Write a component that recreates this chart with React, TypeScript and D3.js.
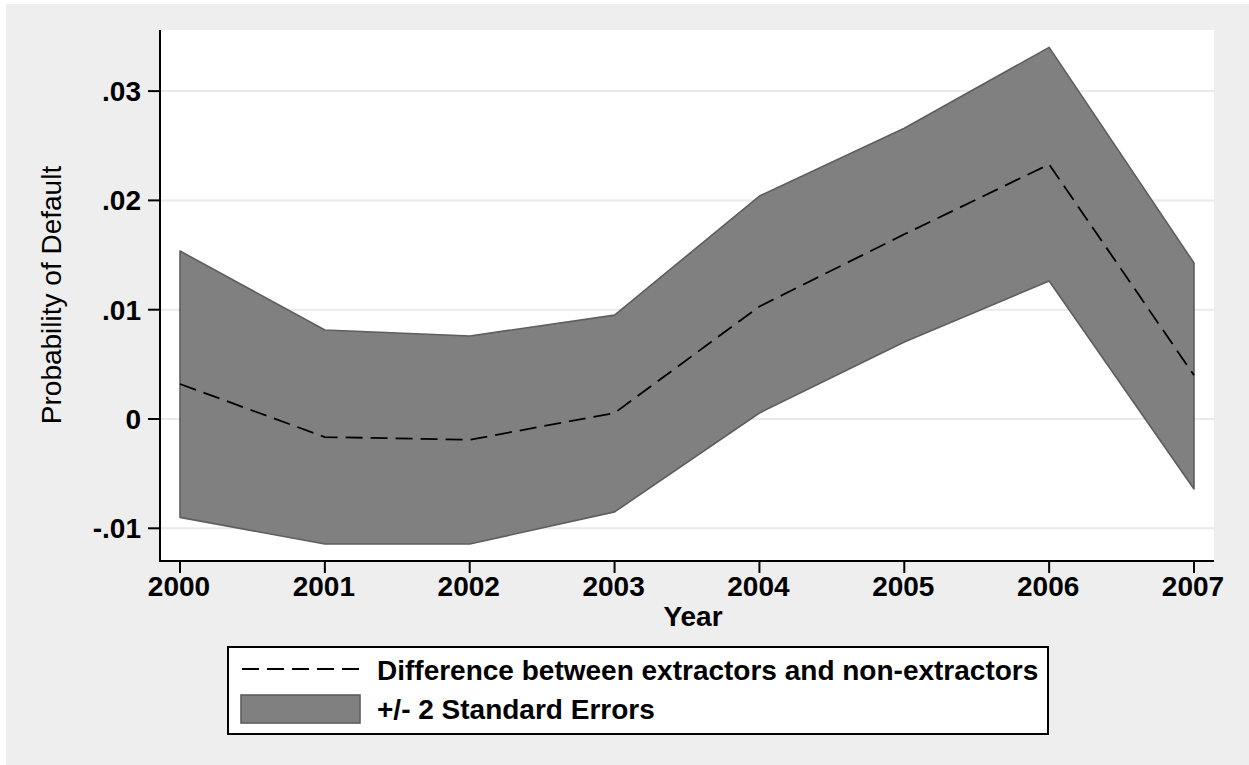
import React from "react";
import * as d3 from "d3";

const years = [2000, 2001, 2002, 2003, 2004, 2005, 2006, 2007];
const diff = [0.0032, -0.00165, -0.0019, 0.00055, 0.0103, 0.0169, 0.0233, 0.004];
const upper = [0.01537, 0.00814, 0.0076, 0.0095, 0.0204, 0.0266, 0.034, 0.01427];
const lower = [-0.009, -0.01144, -0.01144, -0.0085, 0.00055, 0.00704, 0.01263, -0.0064];
const yTicks = [-0.01, 0, 0.01, 0.02, 0.03];
const yTickLabels = ["-.01", "0", ".01", ".02", ".03"];
const legendLabels = ["Difference between extractors and non-extractors", "+/- 2 Standard Errors"];

const W = 1249;
const H = 765;
const plot = { left: 161, right: 1214, top: 30, bottom: 561 };
const FONT = "'Liberation Sans', Arial, sans-serif";
const FS = 28;

export default function App() {
  const x = d3.scaleLinear().domain([2000, 2007]).range([180, 1194]);
  const y = d3.scaleLinear().domain([0, 0.01]).range([419, 309.7]);

  const rows = years.map((yr, i) => ({ yr, d: diff[i], u: upper[i], l: lower[i] }));
  const area = d3
    .area<any>()
    .x((r) => x(r.yr))
    .y0((r) => y(r.l))
    .y1((r) => y(r.u));
  const line = d3
    .line<any>()
    .x((r) => x(r.yr))
    .y((r) => y(r.d));

  return (
    <svg
      width={W}
      height={H}
      style={{ position: "absolute", left: 0, top: 0, display: "block" }}
    >
      <rect x={0} y={0} width={W} height={H} fill="#ffffff" />
      <rect x={6} y={4} width={W - 6} height={H - 4} fill="#eeeeee" />
      <rect
        x={plot.left}
        y={plot.top}
        width={plot.right - plot.left}
        height={plot.bottom - plot.top}
        fill="#ffffff"
      />
      {yTicks.map((t, i) => (
        <line
          key={"g" + i}
          x1={plot.left}
          x2={plot.right}
          y1={y(t)}
          y2={y(t)}
          stroke="#eaeaea"
          strokeWidth={2}
        />
      ))}
      <path d={area(rows) || ""} fill="#808080" stroke="#5e5e5e" strokeWidth={1.6} strokeLinejoin="round" />
      <path
        d={line(rows) || ""}
        fill="none"
        stroke="#000"
        strokeWidth={1.8}
        strokeDasharray="17 8"
      />
      {/* axes */}
      <line x1={160} x2={160} y1={plot.top} y2={plot.bottom + 1} stroke="#000" strokeWidth={2} />
      <line x1={159} x2={plot.right} y1={561} y2={561} stroke="#000" strokeWidth={2} />
      {yTicks.map((t, i) => (
        <g key={"yt" + i}>
          <line x1={148} x2={160} y1={y(t)} y2={y(t)} stroke="#000" strokeWidth={2} />
          <text
            x={141}
            y={y(t) + 10}
            textAnchor="end"
            fontFamily={FONT}
            fontWeight={700}
            fontSize={FS}
            fill="#000"
          >
            {yTickLabels[i]}
          </text>
        </g>
      ))}
      {years.map((yr, i) => (
        <g key={"xt" + i}>
          <line x1={x(yr)} x2={x(yr)} y1={561} y2={573} stroke="#000" strokeWidth={2} />
          <text
            x={x(yr) - 1}
            y={596}
            textAnchor="middle"
            fontFamily={FONT}
            fontWeight={700}
            fontSize={FS}
            fill="#000"
          >
            {String(yr)}
          </text>
        </g>
      ))}
      <text x={693} y={626} textAnchor="middle" fontFamily={FONT} fontWeight={700} fontSize={FS} fill="#000">
        Year
      </text>
      <text
        transform={`translate(61,295) rotate(-90)`}
        textAnchor="middle"
        fontFamily={FONT}
        fontWeight={400}
        fontSize={FS}
        fill="#000"
      >
        Probability of Default
      </text>
      {/* legend */}
      <rect x={228} y={647} width={820} height={87} fill="#ffffff" stroke="#000" strokeWidth={2} />
      <line x1={242} x2={360} y1={669} y2={669} stroke="#000" strokeWidth={1.8} strokeDasharray="17 8" />
      <rect x={241} y={695} width={119} height={28} fill="#808080" stroke="#5e5e5e" strokeWidth={1.6} />
      <text x={377} y={680} fontFamily={FONT} fontWeight={700} fontSize={FS} fill="#000">
        {legendLabels[0]}
      </text>
      <text x={377} y={719} fontFamily={FONT} fontWeight={700} fontSize={FS} fill="#000">
        {legendLabels[1]}
      </text>
    </svg>
  );
}
